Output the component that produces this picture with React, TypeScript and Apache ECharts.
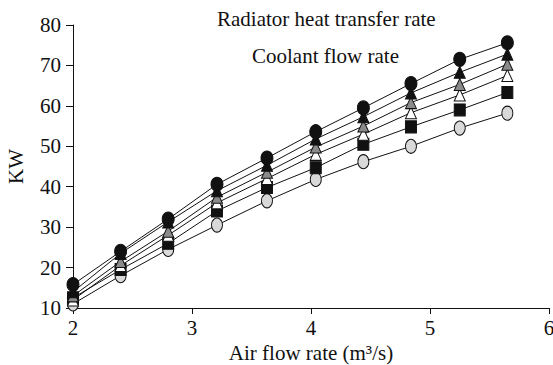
import React, { useEffect, useRef } from "react";
import * as echarts from "echarts";

const airFlow = [2.0, 2.4, 2.8, 3.21, 3.63, 4.04, 4.44, 4.84, 5.25, 5.65];
const seriesGrayCircle = [11, 18, 24.5, 30.5, 36.5, 41.8, 46.2, 50, 54.5, 58.2];
const seriesBlackSquare = [12.5, 19.5, 26, 34, 39.8, 44.7, 50.5, 54.8, 59, 63.3];
const seriesWhiteTriangle = [12, 20.5, 28, 36, 42, 48, 53, 58.3, 62.7, 67.5];
const seriesGrayTriangle = [13, 21.5, 29, 37.4, 43.6, 49.8, 55, 60.8, 65.3, 70.3];
const seriesBlackTriangle = [14, 23.5, 31.3, 39, 45.3, 51.8, 57.3, 63.2, 68.3, 72.8];
const seriesBlackCircle = [15.8, 24, 32, 40.6, 47.1, 53.6, 59.5, 65.5, 71.5, 75.6];

const titleTop = "Radiator heat transfer rate";
const titleSecond = "Coolant flow rate";
const yName = "KW";
const xName = "Air flow rate (m³/s)";

const FONT = "Liberation Serif";
const FS = 21;

export default function App() {
  const ref = useRef<HTMLDivElement>(null);
  useEffect(() => {
    const chart = echarts.init(ref.current!, undefined, { renderer: "svg" });
    const mk = (
      name: string,
      vals: number[],
      symbol: string,
      size: number | number[],
      fill: string
    ) => ({
      name,
      type: "line",
      data: airFlow.map((x, i) => [x, vals[i]]),
      symbol,
      symbolSize: size,
      showAllSymbol: true,
      lineStyle: { color: "#111", width: 1 },
      itemStyle: { color: fill, borderColor: "#111", borderWidth: 1 },
      z: 2,
    });
    chart.setOption({
      animation: false,
      backgroundColor: "#fff",
      textStyle: { fontFamily: FONT },
      grid: {
        left: 73,
        right: 4,
        top: 25,
        bottom: 57,
        containLabel: false,
        outerBoundsMode: "none",
      },
      xAxis: {
        type: "value",
        min: 2,
        max: 6,
        interval: 1,
        name: xName,
        nameLocation: "middle",
        nameGap: 33,
        nameTextStyle: { fontFamily: FONT, fontSize: FS, color: "#111" },
        axisLine: { lineStyle: { color: "#111", width: 1 } },
        axisTick: { show: true, length: 6, inside: false, lineStyle: { color: "#111" } },
        axisLabel: { fontFamily: FONT, fontSize: FS, color: "#111", margin: 9 },
        splitLine: { show: false },
      },
      yAxis: {
        type: "value",
        min: 10,
        max: 80,
        interval: 10,
        name: yName,
        nameLocation: "middle",
        nameGap: 47,
        nameRotate: 90,
        nameTextStyle: { fontFamily: FONT, fontSize: FS, color: "#111" },
        axisLine: { show: true, lineStyle: { color: "#111", width: 1 } },
        axisTick: { show: true, length: 7, lineStyle: { color: "#111" } },
        axisLabel: { fontFamily: FONT, fontSize: FS, color: "#111", margin: 12 },
        splitLine: { show: false },
      },
      graphic: [
        {
          type: "text",
          left: 217,
          top: 8,
          style: { text: titleTop, fontFamily: FONT, fontSize: FS, fill: "#111" },
        },
        {
          type: "text",
          left: 252,
          top: 45,
          style: { text: titleSecond, fontFamily: FONT, fontSize: FS, fill: "#111" },
        },
      ],
      series: [
        mk("Gray circle", seriesGrayCircle, "circle", [11, 14], "#d9d9d9"),
        mk("Black square", seriesBlackSquare, "rect", [11, 12], "#111"),
        mk("White triangle", seriesWhiteTriangle, "triangle", [11, 12], "#fff"),
        mk("Gray triangle", seriesGrayTriangle, "triangle", [11, 12], "#8a8a8a"),
        mk("Black triangle", seriesBlackTriangle, "triangle", [11, 12], "#111"),
        mk("Black circle", seriesBlackCircle, "circle", [12, 14], "#111"),
      ],
    });
    return () => chart.dispose();
  }, []);
  return (
    <div
      ref={ref}
      style={{ position: "fixed", left: 0, top: 0, width: 553, height: 365 }}
    />
  );
}
